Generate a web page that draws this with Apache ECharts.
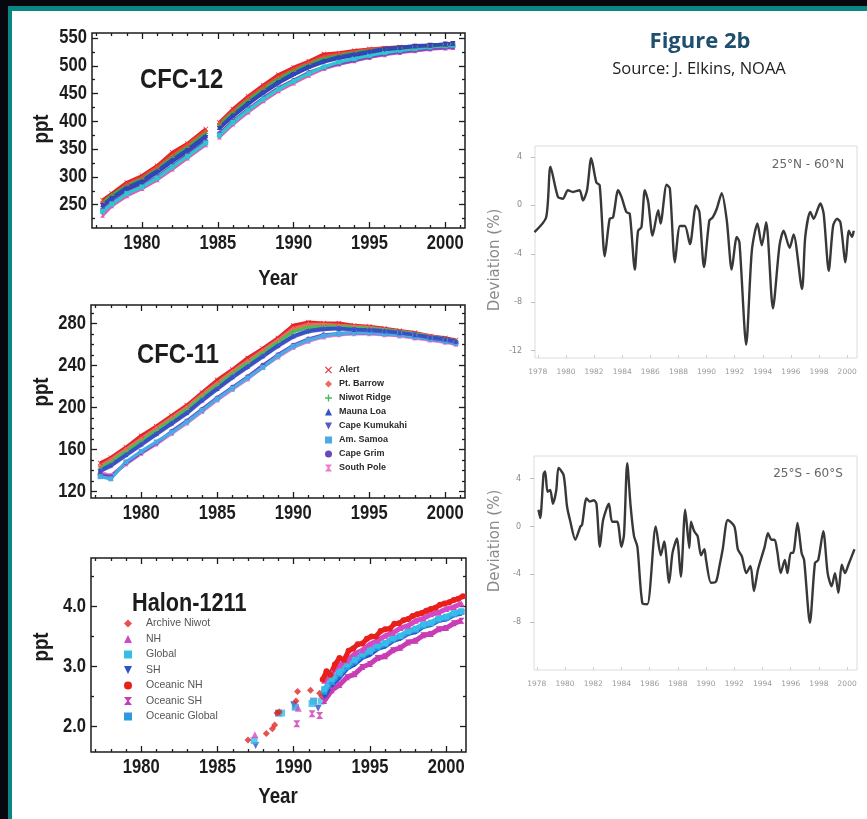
<!DOCTYPE html>
<html><head><meta charset="utf-8">
<script src="https://cdn.jsdelivr.net/npm/echarts@6/dist/echarts.min.js"></script>
<style>
html,body{margin:0;padding:0;}
body{background:#08070f;width:867px;height:819px;overflow:hidden;position:relative;}
#frame{position:absolute;left:8px;top:6px;right:0;bottom:0;background:#0b8783;}
#inner{position:absolute;left:12px;top:11px;right:0;bottom:0;background:#ffffff;}
#c{position:absolute;left:0;top:0;width:867px;height:819px;}
</style></head>
<body><div id="frame"></div><div id="inner"></div><div id="c"></div>
<script>
// ---------- tick values ----------
const yearMajorLeft = [1980, 1985, 1990, 1995, 2000];
const yearMinorLeft = [1977,1978,1979,1981,1982,1983,1984,1986,1987,1988,1989,1991,1992,1993,1994,1996,1997,1998,1999,2001];
const cfc12Ticks = [250,300,350,400,450,500,550];
const cfc12Minor = [225,275,325,375,425,475,525];
const cfc11Ticks = [120,160,200,240,280];
const cfc11Minor = [130,140,150,170,180,190,210,220,230,250,260,270,290];
const halonTicks = [2,3,4];
const halonMinor = [2.5,3.5,4.5];
const devYears = [1978,1980,1982,1984,1986,1988,1990,1992,1994,1996,1998,2000];
const nhDevTicks = [4,0,-4,-8,-12];
const shDevTicks = [4,0,-4,-8];

// ---------- CFC-12 (ppt) ----------
const cfc12Years = [1977.4,1978,1979,1980,1981,1982,1983,1984.2,1984.6,1985.1,1986,1987,1988,1989,1990,1991,1992,1993,1994,1995,1996,1997,1998,1999,2000,2000.5];
const cfc12Alert      = [258,270,290,302,320,344,360,386,null,398,422,445,465,484,497,508,521,523,527,530,532,534,535,537,538,539];
const cfc12Barrow     = [255,266,286,298,317,338,357,382,null,396,418,441,461,479,493,505,516,521,525,529,531,533,535,536,538,539];
const cfc12Niwot      = [252,267,283,296,313,335,353,378,null,393,415,438,457,476,490,502,513,518,523,527,530,532,534,536,538,539];
const cfc12MaunaLoa   = [250,262,281,293,311,331,349,374,null,389,411,433,453,471,486,499,509,516,521,526,531,533,536,537,539,540];
const cfc12Kumukahi   = [248,261,278,290,308,328,347,371,null,387,409,431,451,469,484,497,507,514,519,524,529,532,535,537,539,540];
const cfc12Samoa      = [238,251,270,282,298,318,337,361,null,375,398,420,440,458,472,486,498,507,513,519,524,528,531,534,536,537];
const cfc12Grim       = [241,254,272,284,300,320,340,364,null,378,400,422,442,460,474,488,497,504,510,516,521,525,528,531,533,534];
const cfc12SouthPole  = [231,248,266,279,295,314,334,358,null,372,395,417,437,455,469,483,495,503,509,515,520,524,527,530,532,533];

// ---------- CFC-11 (ppt) ----------
const cfc11Years = [1977.3,1978,1979,1980,1981,1982,1983,1984,1985,1986,1987,1988,1989,1990,1991,1992,1993,1994,1995,1996,1997,1998,1999,2000,2000.7];
const cfc11Alert      = [147,152,162,173,182,192,202,214,226,236,247,256,266,278,281,280,280,278,277,275,273,271,268,266,264];
const cfc11Barrow     = [144,150,160,170,180,190,200,212,223,234,244,254,264,275,279,279,278,277,276,274,272,270,268,265,263];
const cfc11Niwot      = [142,148,158,168,178,188,198,210,221,232,242,252,262,272,276,277,277,276,275,274,272,270,267,265,263];
const cfc11MaunaLoa   = [140,145,155,165,175,185,195,207,218,229,239,249,259,268,273,275,275,274,274,273,271,269,267,265,263];
const cfc11Kumukahi   = [139,144,154,164,174,184,194,206,217,228,238,248,258,267,272,274,275,274,273,272,271,269,266,264,262];
const cfc11Samoa      = [134,132,148,158,167,176,186,197,208,218,228,238,249,258,264,268,270,271,271,270,269,267,265,263,261];
const cfc11Grim       = [136,134,147,157,166,177,187,198,209,219,229,240,250,259,265,269,270,271,271,270,269,267,265,263,261];
const cfc11SouthPole  = [138,135,146,156,165,175,185,196,207,217,227,238,248,257,263,267,269,270,270,269,268,266,264,262,260];

// ---------- Halon-1211 (ppt), [year, value] ----------
const halonArchiveNiwot = [[1987.0,1.77],[1988.2,1.88],[1988.6,1.96],[1988.75,2.02],[1988.9,2.22],[1989.05,2.24],[1990.15,2.42],[1990.25,2.58],[1991.1,2.6],[1991.7,2.55],[1991.85,2.5]];
const halonNHEarly = [[1987.45,1.86],[1990.3,2.3]];
const halonNH = [[1992.0,2.76],[1992.5,2.9],[1993.0,3.02],[1993.5,3.1],[1994.0,3.21],[1994.5,3.27],[1995.0,3.37],[1995.5,3.43],[1996.0,3.51],[1996.5,3.56],[1997.0,3.64],[1997.5,3.68],[1998.0,3.76],[1998.5,3.8],[1999.0,3.87],[1999.5,3.9],[2000.0,3.96],[2000.5,3.99],[2001.0,4.05]];
const halonGlobalEarly = [[1987.4,1.76],[1989.2,2.22],[1991.2,2.38],[1991.8,2.42]];
const halonGlobal = [[1992.0,2.62],[1992.5,2.79],[1993.0,2.9],[1993.5,3.03],[1994.0,3.11],[1994.5,3.21],[1995.0,3.26],[1995.5,3.35],[1996.0,3.39],[1996.5,3.47],[1997.0,3.51],[1997.5,3.59],[1998.0,3.63],[1998.5,3.7],[1999.0,3.73],[1999.5,3.8],[2000.0,3.83],[2000.5,3.89],[2001.0,3.92]];
const halonSHEarly = [[1987.5,1.68],[1990.0,2.36],[1991.6,2.3]];
const halonSH = [[1992.0,2.5],[1992.5,2.69],[1993.0,2.82],[1993.5,2.97],[1994.0,3.04],[1994.5,3.15],[1995.0,3.2],[1995.5,3.3],[1996.0,3.34],[1996.5,3.43],[1997.0,3.47],[1997.5,3.55],[1998.0,3.58],[1998.5,3.67],[1999.0,3.7],[1999.5,3.77],[2000.0,3.79],[2000.5,3.86],[2001.0,3.89]];
const halonOceanicNH = [[1991.9,2.78],[1992.15,2.92],[1992.4,2.86],[1992.7,3.03],[1993.0,3.14],[1993.3,3.11],[1993.6,3.26],[1993.9,3.3],[1994.2,3.37],[1994.5,3.38],[1994.8,3.46],[1995.1,3.5],[1995.4,3.5],[1995.7,3.59],[1996.0,3.62],[1996.3,3.63],[1996.6,3.71],[1996.9,3.72],[1997.2,3.77],[1997.5,3.79],[1997.8,3.84],[1998.1,3.87],[1998.4,3.89],[1998.7,3.93],[1999.0,3.96],[1999.3,3.98],[1999.6,4.03],[1999.9,4.05],[2000.2,4.07],[2000.5,4.11],[2000.8,4.13],[2001.1,4.17]];
const halonOceanicSHEarly = [[1990.2,2.04],[1991.2,2.21],[1991.7,2.18]];
const halonOceanicSH = [[1992.0,2.42],[1992.5,2.6],[1993.0,2.69],[1993.5,2.82],[1994.0,2.87],[1994.5,2.99],[1995.0,3.04],[1995.5,3.14],[1996.0,3.17],[1996.5,3.27],[1997.0,3.31],[1997.5,3.4],[1998.0,3.43],[1998.5,3.52],[1999.0,3.54],[1999.5,3.62],[2000.0,3.64],[2000.5,3.72],[2001.0,3.76]];
const halonOceanicGlobalEarly = [[1989.0,2.22],[1990.1,2.32],[1991.3,2.42]];
const halonOceanicGlobal = [[1992.0,2.58],[1992.5,2.74],[1993.0,2.87],[1993.5,2.99],[1994.0,3.08],[1994.5,3.18],[1995.0,3.24],[1995.5,3.32],[1996.0,3.37],[1996.5,3.45],[1997.0,3.5],[1997.5,3.57],[1998.0,3.61],[1998.5,3.68],[1999.0,3.72],[1999.5,3.78],[2000.0,3.81],[2000.5,3.87],[2001.0,3.91]];

// ---------- Deviation (%) ----------
const nhYears = [1977.76,1978.59,1978.90,1979.43,1979.78,1980.14,1980.50,1980.97,1981.21,1981.50,
1981.80,1982.16,1982.40,1982.76,1983.11,1983.35,1983.71,1983.95,1984.30,1984.54,
1984.90,1985.13,1985.37,1985.61,1985.85,1986.16,1986.56,1986.73,1987.16,1987.39,
1987.75,1988.11,1988.46,1988.82,1989.25,1989.49,1989.82,1990.20,1990.44,1990.72,
1991.08,1991.44,1991.79,1992.15,1992.34,1992.82,1993.22,1993.62,1993.93,1994.24,
1994.72,1995.19,1995.48,1995.91,1996.19,1996.79,1997.02,1997.38,1997.62,1998.09,
1998.33,1998.69,1999.00,1999.28,1999.52,1999.88,2000.12,2000.35,2000.47];
const nhDev = [-2.2,-1.0,3.2,0.7,0.55,1.25,1.1,1.25,0.4,1.25,
3.9,1.9,1.65,-4.2,-1.1,-1.0,1.25,0.7,-0.55,-0.7,
-5.3,-2.1,-1.8,1.25,0.3,-2.5,-0.4,-1.5,1.7,1.4,
-4.7,-1.7,-1.7,-3.2,0,-0.55,-5.1,-1.25,-1.0,-0.3,
1.0,-1.25,-5.3,-2.6,-3.05,-11.5,-3.75,-1.5,-3.3,-1.4,
-8.5,-3.3,-2.1,-3.5,-2.4,-6.9,-2.6,-0.55,-1.1,0.15,
-0.7,-5.4,-1.7,-1.1,-1.4,-4.7,-2.1,-2.6,-2.1];
const shYears = [1978.12,1978.24,1978.48,1978.59,1978.76,1978.95,1979.14,1979.38,1979.54,1979.90,
1980.14,1980.38,1980.73,1981.09,1981.21,1981.52,1981.75,1982.04,1982.23,1982.47,
1982.70,1983.11,1983.34,1983.70,1983.99,1984.18,1984.41,1984.65,1984.89,1985.13,
1985.48,1985.84,1986.43,1986.79,1987.03,1987.38,1987.62,1987.93,1988.21,1988.52,
1988.81,1988.93,1989.16,1989.40,1989.64,1989.88,1990.00,1990.35,1990.71,1990.95,
1991.18,1991.54,1992.01,1992.25,1992.54,1992.85,1993.15,1993.39,1993.68,1994.15,
1994.39,1994.63,1994.86,1995.05,1995.29,1995.58,1995.77,1996.00,1996.17,1996.48,
1996.77,1996.95,1997.36,1997.72,1997.95,1998.31,1998.62,1998.90,1999.14,1999.38,
1999.62,1999.85,2000.09,2000.52];
const shDev = [1.4,0.7,4.4,4.6,2.9,3.05,1.9,3.05,4.9,4.3,
1.7,0.4,-1.1,0,0.15,2.35,2.1,2.2,1.9,-1.7,
0.55,1.9,0.4,0.4,-1.7,-0.7,5.3,1.7,-0.8,-1.7,
-6.4,-6.5,0,-2.4,-1.25,-4.7,-2.2,-1.0,-4.2,1.4,
-1.8,0.4,-0.4,-0.8,-2.4,-1.9,-2.8,-4.7,-4.6,-3.3,
-1.9,0.55,0,-1.9,-2.5,-3.9,-3.3,-5.4,-3.6,-1.7,
-0.55,-1.1,-1.1,-2.1,-3.9,-2.8,-3.9,-2.2,-2.2,0.3,
-2.2,-2.8,-8.05,-3.05,-2.8,-0.4,-3.9,-5.0,-3.9,-5.55,
-3.2,-3.9,-3.2,-1.9];

// ---------- styling ----------
const SANS = "'Liberation Sans',Arial,sans-serif";
const NARROW_SCALE = 0.85;
const INK = '#1c1c1c';
const SYM = {
  x: 'path://M1,0L5,4L9,0L10,1L6,5L10,9L9,10L5,6L1,10L0,9L4,5L0,1Z',
  plus: 'path://M4,0H6V4H10V6H6V10H4V6H0V4H4Z',
  down: 'path://M0,0H10L5,10Z',
  hour: 'path://M0,0H10L6,5L10,10H0L4,5Z'
};
const stations = [
  {name:'Alert',          sym:SYM.x,      c12:'#e3262b', c11:'#e3262b'},
  {name:'Pt. Barrow',     sym:'diamond',  c12:'#ee4a35', c11:'#f06a5a'},
  {name:'Niwot Ridge',    sym:SYM.plus,   c12:'#3cae48', c11:'#4cbb56'},
  {name:'Mauna Loa',      sym:'triangle', c12:'#2d48b8', c11:'#3552c4'},
  {name:'Cape Kumukahi',  sym:SYM.down,   c12:'#3d3aa8', c11:'#5a58c8'},
  {name:'Am. Samoa',      sym:'rect',     c12:'#2ec6cf', c11:'#4aaae6'},
  {name:'Cape Grim',      sym:'circle',   c12:'#7a4cc0', c11:'#6a48b8'},
  {name:'South Pole',     sym:SYM.hour,   c12:'#e35ab8', c11:'#ee7ac8'}
];
const cfc12Vals = [cfc12Alert,cfc12Barrow,cfc12Niwot,cfc12MaunaLoa,cfc12Kumukahi,cfc12Samoa,cfc12Grim,cfc12SouthPole];
const cfc11Vals = [cfc11Alert,cfc11Barrow,cfc11Niwot,cfc11MaunaLoa,cfc11Kumukahi,cfc11Samoa,cfc11Grim,cfc11SouthPole];
const drawOrder = [7,6,5,0,1,2,4,3];

const grids = [], xAxes = [], yAxes = [], series = [];
const leftX = [1976.7, 2001.3];
const rightX = [1977.8, 2000.7];
const leftPanels = [];

function addLeftPanel(box, yr, yMaj, yMin, yFmt){
  const gi = grids.length;
  grids.push({left:box[0], top:box[1], width:box[2], height:box[3], show:true, borderColor:INK, borderWidth:1.5});
  const xi = xAxes.length, yi = yAxes.length;
  const tick = {color:INK, width:1.3};
  ['bottom','top'].forEach(pos=>{
    xAxes.push({gridIndex:gi,type:'value',min:leftX[0],max:leftX[1],position:pos,
      axisLine:{show:false,onZero:false},splitLine:{show:false},
      axisTick:{show:true,inside:true,length:6,lineStyle:tick,customValues:yearMajorLeft},
      axisLabel:{show:false,customValues:yearMajorLeft}});
    xAxes.push({gridIndex:gi,type:'value',min:leftX[0],max:leftX[1],position:pos,
      axisLine:{show:false,onZero:false},splitLine:{show:false},
      axisTick:{show:true,inside:true,length:3,lineStyle:tick,customValues:yearMinorLeft},
      axisLabel:{show:false,customValues:yearMinorLeft}});
  });
  ['left','right'].forEach(pos=>{
    yAxes.push({gridIndex:gi,type:'value',min:yr[0],max:yr[1],position:pos,
      axisLine:{show:false,onZero:false},splitLine:{show:false},
      axisTick:{show:true,inside:true,length:6,lineStyle:tick,customValues:yMaj},
      axisLabel:{show:false,customValues:yMaj}});
    yAxes.push({gridIndex:gi,type:'value',min:yr[0],max:yr[1],position:pos,
      axisLine:{show:false,onZero:false},splitLine:{show:false},
      axisTick:{show:true,inside:true,length:3,lineStyle:tick,customValues:yMin},
      axisLabel:{show:false,customValues:yMin}});
  });
  const p = {xi, yi, yr, yMaj, yFmt};
  leftPanels.push(p);
  return p;
}
function addRightPanel(box, yr, yTicks){
  const gi = grids.length;
  grids.push({left:box[0], top:box[1], width:box[2], height:box[3], show:true, borderColor:'#dcdcdc', borderWidth:1});
  const xi = xAxes.length, yi = yAxes.length;
  xAxes.push({gridIndex:gi,type:'value',min:rightX[0],max:rightX[1],position:'bottom',
    axisLine:{show:false,onZero:false},splitLine:{show:false},
    axisTick:{show:true,inside:true,length:3,lineStyle:{color:'#d0d0d0'},customValues:devYears},
    axisLabel:{customValues:devYears,formatter:v=>String(v),margin:10,fontSize:7.5,color:'#9a9a9a',fontFamily:'DejaVu Sans'}});
  yAxes.push({gridIndex:gi,type:'value',min:yr[0],max:yr[1],position:'left',
    axisLine:{show:false,onZero:false},splitLine:{show:false},
    axisTick:{show:true,inside:false,length:4,lineStyle:{color:'#c0c0c0'},customValues:yTicks},
    axisLabel:{customValues:yTicks,formatter:v=>String(v),margin:13,fontSize:8,color:'#8a8a8a',fontFamily:'DejaVu Sans'}});
  return {xi, yi};
}

// CFC-12
const p12 = addLeftPanel([92,33,373,195],[208,559],cfc12Ticks,cfc12Minor,v=>String(v));
drawOrder.forEach(k=>{
  const s = stations[k];
  series.push({type:'line', name:s.name, xAxisIndex:p12.xi, yAxisIndex:p12.yi,
    data: cfc12Years.map((y,i)=>[y, cfc12Vals[k][i]]), connectNulls:false,
    symbol:s.sym, symbolSize:5, lineStyle:{width:3.4,color:s.c12}, itemStyle:{color:s.c12}});
});
// CFC-11
const p11 = addLeftPanel([91,305,374,193],[113.7,297.4],cfc11Ticks,cfc11Minor,v=>String(v));
drawOrder.forEach(k=>{
  const s = stations[k];
  series.push({type:'line', name:s.name, xAxisIndex:p11.xi, yAxisIndex:p11.yi,
    data: cfc11Years.map((y,i)=>[y, cfc11Vals[k][i]]),
    symbol:s.sym, symbolSize:5, lineStyle:{width:3.4,color:s.c11}, itemStyle:{color:s.c11}});
});
// Halon-1211
const ph = addLeftPanel([91,558,375,194],[1.57,4.81],halonTicks,halonMinor,v=>v.toFixed(1));
const halonSeries = [
  {name:'Oceanic SH', color:'#c83cb4', sym:SYM.hour, early:halonOceanicSHEarly, band:halonOceanicSH},
  {name:'SH', color:'#3050c8', sym:SYM.down, early:halonSHEarly, band:halonSH},
  {name:'Oceanic Global', color:'#2a9be0', sym:'rect', early:halonOceanicGlobalEarly, band:halonOceanicGlobal},
  {name:'Global', color:'#38bde8', sym:'rect', early:halonGlobalEarly, band:halonGlobal},
  {name:'NH', color:'#d548c4', sym:'triangle', early:halonNHEarly, band:halonNH},
  {name:'Oceanic NH', color:'#e8201c', sym:'circle', early:null, band:halonOceanicNH},
  {name:'Archive Niwot', color:'#e52420', sym:'diamond', early:halonArchiveNiwot, band:null}
];
halonSeries.forEach(h=>{
  if (h.band) series.push({type:'line', name:h.name, xAxisIndex:ph.xi, yAxisIndex:ph.yi, data:h.band,
    symbol:h.sym, symbolSize:6, lineStyle:{width:5,color:h.color}, itemStyle:{color:h.color}});
  if (h.early) series.push({type:'scatter', name:h.name, xAxisIndex:ph.xi, yAxisIndex:ph.yi, data:h.early,
    symbol:h.sym, symbolSize:7, itemStyle:{color:h.color}});
});
// Deviation panels
const pn = addRightPanel([535,146,322,212],[-12.6,4.9],nhDevTicks);
series.push({type:'line', name:'25N-60N', xAxisIndex:pn.xi, yAxisIndex:pn.yi,
  data:nhYears.map((y,i)=>[y,nhDev[i]]), smooth:0.25, showSymbol:false,
  lineStyle:{color:'#383838', width:2.4}});
const ps = addRightPanel([534,456,323,214],[-12,5.9],shDevTicks);
series.push({type:'line', name:'25S-60S', xAxisIndex:ps.xi, yAxisIndex:ps.yi,
  data:shYears.map((y,i)=>[y,shDev[i]]), smooth:0.25, showSymbol:false,
  lineStyle:{color:'#383838', width:2.4}});

const legend11 = stations.map(s=>({name:s.name, icon:s.sym, itemStyle:{color:s.c11}}));
const legendH = [
  {name:'Archive Niwot', icon:'diamond', itemStyle:{color:'#e52420'}},
  {name:'NH', icon:'triangle', itemStyle:{color:'#d548c4'}},
  {name:'Global', icon:'rect', itemStyle:{color:'#38bde8'}},
  {name:'SH', icon:SYM.down, itemStyle:{color:'#3050c8'}},
  {name:'Oceanic NH', icon:'circle', itemStyle:{color:'#e8201c'}},
  {name:'Oceanic SH', icon:SYM.hour, itemStyle:{color:'#c83cb4'}},
  {name:'Oceanic Global', icon:'rect', itemStyle:{color:'#2a9be0'}}
];

function txt(text, x, y, font, fill, opt){
  return Object.assign({type:'text', x:x, y:y, silent:true, z:10,
    style:Object.assign({text:text, fill:fill, align:'center', verticalAlign:'middle'}, font)}, opt||{});
}
const bold = (size)=>({fontFamily:SANS, fontWeight:'bold', fontSize:size});
const NS = {scaleX:NARROW_SCALE};
const graphics = [
  txt('Figure 2b', 700, 42, {fontFamily:"'Open Sans',sans-serif", fontWeight:'bold', fontSize:22}, '#1f4f6f'),
  txt('Source: J. Elkins, NOAA', 699, 69, {fontFamily:"'Open Sans',sans-serif", fontSize:16.5}, '#222'),
  txt('CFC-12', 140, 80, Object.assign(bold(28),{align:'left'}), INK, NS),
  txt('CFC-11', 137, 355, Object.assign(bold(28),{align:'left'}), INK, NS),
  txt('Halon-1211', 132, 604, Object.assign(bold(25.5),{align:'left'}), INK, NS),
  txt('ppt', 42, 129, bold(22), INK, {rotation:Math.PI/2, scaleX:NARROW_SCALE}),
  txt('ppt', 42, 392, bold(22), INK, {rotation:Math.PI/2, scaleX:NARROW_SCALE}),
  txt('ppt', 42, 647, bold(22), INK, {rotation:Math.PI/2, scaleX:NARROW_SCALE}),
  txt('Year', 278, 279, bold(22), INK, NS),
  txt('Year', 278, 797, bold(22), INK, NS),
  txt('Deviation (%)', 495, 260, {fontFamily:'DejaVu Sans', fontSize:15}, '#8a8a8a', {rotation:Math.PI/2}),
  txt('Deviation (%)', 495, 541, {fontFamily:'DejaVu Sans', fontSize:15}, '#8a8a8a', {rotation:Math.PI/2}),
  txt('25°N - 60°N', 808, 165, {fontFamily:'DejaVu Sans', fontSize:12}, '#666'),
  txt('25°S - 60°S', 808, 474, {fontFamily:'DejaVu Sans', fontSize:12}, '#666')
];

const chart = echarts.init(document.getElementById('c'), null, {renderer:'canvas'});
chart.setOption({
  animation:false,
  backgroundColor:'transparent',
  grid:grids, xAxis:xAxes, yAxis:yAxes, series:series,
  legend:[
    {orient:'vertical', left:325, top:365, padding:0, itemWidth:7, itemHeight:7, itemGap:4, selectedMode:false,
     textStyle:{fontSize:9, lineHeight:10, color:'#2a2a2a', fontFamily:SANS, fontWeight:'bold', padding:[0,0,0,2]},
     data:legend11},
    {orient:'vertical', left:124, top:618, padding:0, itemWidth:8, itemHeight:8, itemGap:4.5, selectedMode:false,
     textStyle:{fontSize:10.5, lineHeight:10, color:'#555', fontFamily:SANS, padding:[0,0,0,9]},
     data:legendH}
  ],
  graphic:graphics
});

// Tick labels of the left panels, positioned through the axes' own scales (narrow bold look)
const tickLabelGraphics = [];
leftPanels.forEach(p=>{
  const finder = {xAxisIndex:p.xi, yAxisIndex:p.yi};
  yearMajorLeft.forEach(v=>{
    const pt = chart.convertToPixel(finder, [v, p.yr[0]]);
    tickLabelGraphics.push(txt(String(v), pt[0], pt[1] + 16, bold(19.5), INK, NS));
  });
  p.yMaj.forEach(v=>{
    const pt = chart.convertToPixel(finder, [leftX[0], v]);
    tickLabelGraphics.push(txt(p.yFmt(v), pt[0] - 5, pt[1], Object.assign(bold(19.5),{align:'right'}), INK, NS));
  });
});
chart.setOption({graphic: graphics.concat(tickLabelGraphics)});
</script></body></html>
